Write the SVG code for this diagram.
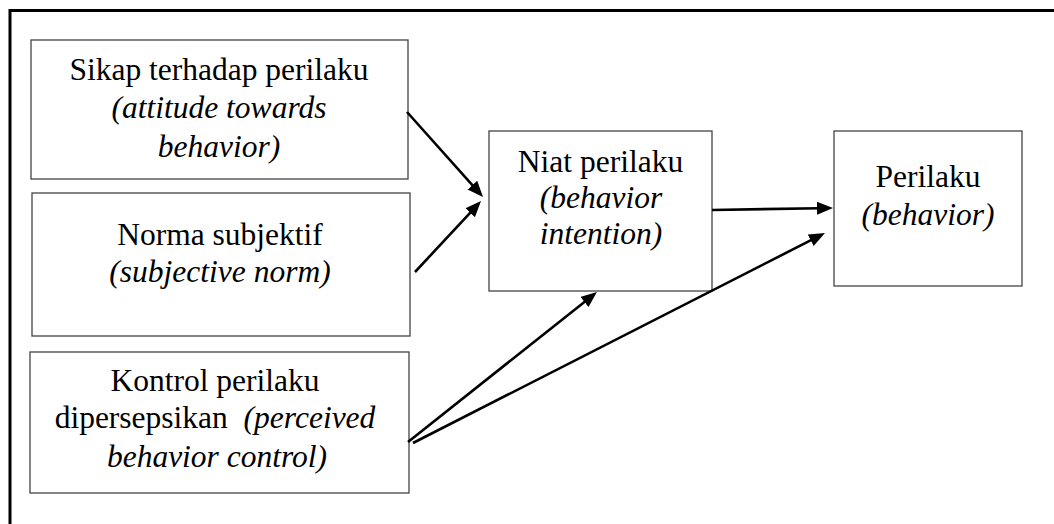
<svg xmlns="http://www.w3.org/2000/svg" width="1054" height="524" viewBox="0 0 1054 524">
<style>
.box{fill:#fff;stroke:#444;stroke-width:1.3}
.t{font-family:'Liberation Serif','Times New Roman',Tinos,'DejaVu Serif',serif;font-size:31.5px;fill:#000;text-anchor:middle}
.i{font-style:italic}
.c{stroke:#000;stroke-width:2.6;fill:none;marker-end:url(#ah)}
</style>
<defs>
<marker id="ah" markerUnits="userSpaceOnUse" markerWidth="18" markerHeight="14" refX="2" refY="6.5" orient="auto">
<path d="M0,0 L16,6.5 L0,13 z" fill="#000"/>
</marker>
</defs>
<rect width="1054" height="524" fill="#fff"/>
<g id="frame">
<line x1="10" y1="10.5" x2="1054" y2="10.5" stroke="#000" stroke-width="3"/>
<line x1="10" y1="9" x2="10" y2="524" stroke="#000" stroke-width="3"/>
</g>
<g id="sikap">
<rect class="box" x="31" y="40" width="377" height="139"/>
<text class="t" x="219" y="80" font-family="Liberation Serif, serif">Sikap terhadap perilaku</text>
<text class="t i" x="219" y="118" font-family="Liberation Serif, serif">(attitude towards</text>
<text class="t i" x="219" y="157" font-family="Liberation Serif, serif">behavior)</text>
</g>
<g id="norma">
<rect class="box" x="32" y="193" width="378" height="143"/>
<text class="t" x="220" y="245">Norma subjektif</text>
<text class="t i" x="220" y="282">(subjective norm)</text>
</g>
<g id="kontrol">
<rect class="box" x="30" y="352" width="379" height="141"/>
<text class="t" x="215" y="391">Kontrol perilaku</text>
<text class="t" x="215" y="428" style="white-space:pre">dipersepsikan  <tspan class="i">(perceived</tspan></text>
<text class="t i" x="217" y="467">behavior control)</text>
</g>
<g id="niat">
<rect class="box" x="489" y="131" width="223" height="160"/>
<text class="t" x="600.5" y="172">Niat perilaku</text>
<text class="t i" x="601" y="208">(behavior</text>
<text class="t i" x="601" y="244">intention)</text>
</g>
<g id="perilaku">
<rect class="box" x="834" y="131" width="188" height="155"/>
<text class="t" x="928" y="187">Perilaku</text>
<text class="t i" x="928" y="225">(behavior)</text>
</g>
<g id="connectors">
<line class="c" x1="407" y1="112" x2="473.7" y2="186.6"/>
<line class="c" x1="415" y1="272" x2="471.5" y2="211.3"/>
<line class="c" x1="712" y1="210" x2="819" y2="208.2"/>
<line class="c" x1="408" y1="442" x2="586" y2="300.7"/>
<line class="c" x1="413" y1="443" x2="812.5" y2="239.4"/>
</g>
</svg>
